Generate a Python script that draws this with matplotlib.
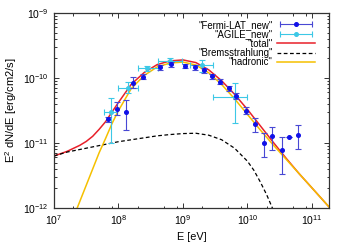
import matplotlib
matplotlib.use("Agg")
import matplotlib.pyplot as plt
import numpy as np
from matplotlib.ticker import LogLocator, LogFormatterMathtext, NullFormatter
from matplotlib.lines import Line2D
from matplotlib.legend_handler import HandlerLine2D, HandlerTuple

plt.rcParams["font.family"] = ["Liberation Sans", "DejaVu Sans"]
plt.rcParams["mathtext.fontset"] = "custom"
plt.rcParams["mathtext.rm"] = "Liberation Sans"
plt.rcParams["mathtext.it"] = "Liberation Sans:italic"

# Fermi-LAT points (E in eV, E^2 dN/dE in erg/cm2/s)
fermi_E = [6.92e7, 9.44e7, 1.32e8, 1.71e8, 2.40e8, 4.45e8, 6.6e8, 1.09e9, 1.56e9,
           2.10e9, 2.84e9, 3.82e9, 5.13e9, 6.76e9, 9.55e9, 1.30e10, 1.80e10,
           2.43e10, 3.39e10, 4.41e10, 6.17e10]
fermi_F = [2.30e-11, 3.37e-11, 3.0e-11, 8.4e-11, 1.05e-10, 1.46e-10, 1.64e-10, 1.53e-10, 1.48e-10,
           1.33e-10, 1.07e-10, 8.77e-11, 6.95e-11, 5.29e-11, 3.16e-11, 1.95e-11, 9.9e-12,
           1.28e-11, 7.8e-12, 1.25e-11, 1.33e-11]
fermi_hi = [2.55e-11, 4.31e-11, 4.59e-11, 1.05e-10, 1.15e-10, 1.59e-10, 1.79e-10, 1.67e-10, 1.61e-10,
            1.45e-10, 1.17e-10, 9.6e-11, 7.6e-11, 5.8e-11, 3.63e-11, 2.43e-11, 1.40e-11,
            1.78e-11, 1.23e-11, 1.25e-11, 1.89e-11]
fermi_lo = [2.10e-11, 2.70e-11, 1.58e-11, 6.95e-11, 9.5e-11, 1.33e-10, 1.50e-10, 1.40e-10, 1.35e-10,
            1.21e-10, 0.97e-10, 8.0e-11, 6.3e-11, 4.8e-11, 2.75e-11, 1.48e-11, 6.1e-12,
            7.9e-12, 3.33e-12, 1.25e-11, 8.0e-12]

# AGILE points
agile_E = [7.71e7, 1.42e8, 2.79e8, 6.31e8, 1.98e9, 6.31e9]
agile_Elo = [6.0e7, 9.9e7, 2.02e8, 4.14e8, 1.30e9, 2.97e9]
agile_Ehi = [9.55e7, 2.02e8, 4.14e8, 9.77e8, 2.97e9, 1.0e10]
agile_F = [3.0e-11, 7.14e-11, 1.40e-10, 1.83e-10, 1.585e-10, 5.16e-11]
agile_hi = [4.92e-11, 8.54e-11, 1.55e-10, 2.05e-10, 1.89e-10, 8.3e-11]
agile_lo = [1.0e-11, 5.97e-11, 1.26e-10, 1.62e-10, 1.25e-10, 2.0e-11]

# model curves, read as log10 values
had_logE = [7.36, 7.4, 7.5, 7.6, 7.7, 7.8, 7.9, 8.0, 8.2, 8.4, 8.6, 8.8, 9.0, 9.2, 9.4, 9.6, 9.8,
            10.0, 10.2, 10.4, 10.6, 10.8, 11.0, 11.28]
had_logF = [-12.0, -11.9, -11.65, -11.40, -11.15, -10.93, -10.70, -10.50, -10.16, -9.96, -9.83,
            -9.77, -9.755, -9.80, -9.92, -10.10, -10.32, -10.56, -10.80, -11.03, -11.25,
            -11.47, -11.69, -12.0]

brems_logE = [7.0, 7.2, 7.4, 7.6, 7.8, 8.0, 8.2, 8.4, 8.6, 8.8, 9.0, 9.2, 9.4, 9.6, 9.8,
              10.0, 10.1, 10.2, 10.3, 10.4]
brems_logF = [-11.20, -11.14, -11.10, -11.06, -11.02, -10.98, -10.95, -10.92, -10.89, -10.87,
              -10.855, -10.85, -10.88, -10.95, -11.08, -11.28, -11.42, -11.60, -11.80, -12.03]

tot_logE = [7.0, 7.2, 7.4, 7.5, 7.6, 7.7, 7.8, 7.9, 8.0, 8.2, 8.4, 8.6, 8.8, 9.0, 9.2, 9.4,
            9.6, 9.8, 10.0, 10.2, 10.4, 10.6, 10.8, 11.0, 11.28]
tot_logF = [-11.20, -11.13, -11.036, -10.976, -10.897, -10.79, -10.672, -10.523, -10.376,
            -10.095, -9.915, -9.794, -9.737, -9.722, -9.763, -9.875, -10.043, -10.25, -10.484,
            -10.736, -10.989, -11.235, -11.47, -11.69, -12.0]

fermi_c = "#1010e8"
fermi_bar = "#4848d4"
agile_c = "#3cc8e6"

fig = plt.figure(figsize=(3.49, 2.45), dpi=100)
ax = fig.add_axes([0.1547, 0.151, 0.788, 0.796])

fE = np.array(fermi_E)
fF = np.array(fermi_F)
ax.errorbar(fE, fF, yerr=[fF - np.array(fermi_lo), np.array(fermi_hi) - fF],
            fmt="o", ms=2.6, color=fermi_c, ecolor=fermi_bar, elinewidth=0.8,
            capsize=2.2, capthick=0.8, zorder=4)

aE = np.array(agile_E)
aF = np.array(agile_F)
ax.errorbar(aE, aF,
            xerr=[aE - np.array(agile_Elo), np.array(agile_Ehi) - aE],
            yerr=[aF - np.array(agile_lo), np.array(agile_hi) - aF],
            fmt="o", ms=2.6, color=agile_c, ecolor=agile_c, elinewidth=0.8,
            capsize=2.2, capthick=0.8, zorder=3)

ax.plot(10 ** np.array(tot_logE), 10 ** np.array(tot_logF), color="#e8202a", lw=1.1, zorder=2)
ax.plot(10 ** np.array(brems_logE), 10 ** np.array(brems_logF), color="black", lw=0.9,
        ls=(0, (3, 2)), zorder=2)
ax.plot(10 ** np.array(had_logE), 10 ** np.array(had_logF), color="#f5c000", lw=1.1, zorder=2)

ax.set_xscale("log")
ax.set_yscale("log")
ax.set_xlim(1e7, 1.84e11)
ax.set_ylim(1e-12, 1e-9)

ax.xaxis.set_major_locator(LogLocator(base=10, numticks=20))
ax.xaxis.set_minor_locator(LogLocator(base=10, subs=(2.0, 5.0, 8.0), numticks=20))
ax.yaxis.set_major_locator(LogLocator(base=10, numticks=20))
ax.yaxis.set_minor_locator(LogLocator(base=10, subs=np.arange(2, 10), numticks=20))
ax.xaxis.set_major_formatter(LogFormatterMathtext())
ax.yaxis.set_major_formatter(LogFormatterMathtext())
ax.xaxis.set_minor_formatter(NullFormatter())
ax.yaxis.set_minor_formatter(NullFormatter())
ax.tick_params(which="both", direction="in", top=True, right=True, labelsize=7.5,
               color="#333333", width=0.7)
ax.tick_params(which="major", length=3.5, pad=4)
ax.tick_params(which="minor", length=1.8)
for s in ax.spines.values():
    s.set_linewidth(0.9)
    s.set_color("#333333")

ax.set_xlabel("E [eV]", fontsize=7.8, labelpad=3)
ax.set_ylabel("E$^2$ dN/dE [erg/cm2/s]", fontsize=8.0)
ax.yaxis.set_label_coords(-0.128, 0.5)

# legend, gnuplot style: text right aligned, sample on the right
cap_f = Line2D([], [], color=fermi_bar, lw=0.8, marker="|", ms=4, mew=0.8)
dot_f = Line2D([], [], color=fermi_c, ls="", marker="o", ms=2.6)
cap_a = Line2D([], [], color=agile_c, lw=0.8, marker="|", ms=4, mew=0.8)
dot_a = Line2D([], [], color=agile_c, ls="", marker="o", ms=2.6)
h_tot = Line2D([], [], color="#e8202a", lw=1.1)
h_br = Line2D([], [], color="black", lw=0.9, ls=(0, (3, 2)))
h_had = Line2D([], [], color="#f5c000", lw=1.1)

hmap = {cap_f: HandlerLine2D(numpoints=2), cap_a: HandlerLine2D(numpoints=2),
        dot_f: HandlerLine2D(numpoints=1), dot_a: HandlerLine2D(numpoints=1),
        tuple: HandlerTuple(ndivide=1)}
leg = ax.legend([(cap_f, dot_f), (cap_a, dot_a), h_tot, h_br, h_had],
                ['"Fermi-LAT_new"', '"AGILE_new"', '"total"', '"Bremsstrahlung"', '"hadronic"'],
                handler_map=hmap, loc="upper right", bbox_to_anchor=(0.955, 0.975),
                markerfirst=False, frameon=False, fontsize=6.9, handlelength=3.9,
                handletextpad=0.5, labelspacing=-0.06, borderpad=0.2, borderaxespad=0)

fig.savefig("out.png", dpi=100)
